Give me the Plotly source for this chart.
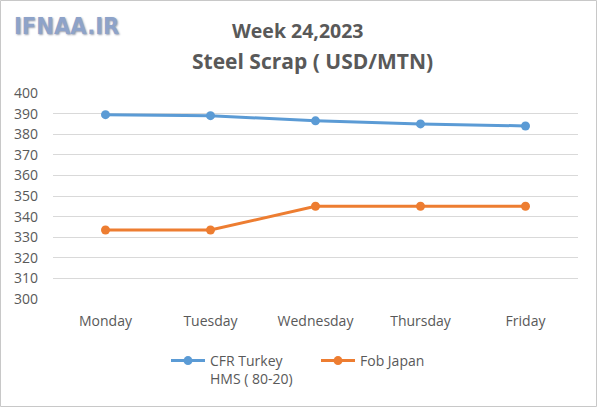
import plotly.graph_objects as go

days = ["Monday", "Tuesday", "Wednesday", "Thursday", "Friday"]
cfr_turkey = [389.5, 389, 386.5, 385, 384]
fob_japan = [333.5, 333.5, 345, 345, 345]
y_ticks = list(range(300, 401, 10))

W, H = 600, 408
L, R, T, B = 53, 22, 93, 109
pw, ph = W - L - R, H - T - B

def px(x):
    return (x - L) / pw

def py(y):
    return (H - B - y) / ph

font = "'Open Sans', sans-serif"

fig = go.Figure()
fig.add_trace(go.Scatter(
    x=days, y=cfr_turkey, mode="lines+markers", name="CFR Turkey<br>HMS ( 80-20)",
    line=dict(color="#5b9bd5", width=3), marker=dict(size=9, color="#5b9bd5")))
fig.add_trace(go.Scatter(
    x=days, y=fob_japan, mode="lines+markers", name="Fob Japan",
    line=dict(color="#ed7d31", width=3), marker=dict(size=9, color="#ed7d31")))

fig.update_layout(
    width=W, height=H,
    margin=dict(l=L, r=R, t=T, b=B, autoexpand=False),
    paper_bgcolor="white", plot_bgcolor="white",
    font=dict(family=font, color="#595959", size=14),
    showlegend=True,
    legend=dict(orientation="h", x=px(166), y=py(345), xanchor="left", yanchor="top",
                font=dict(size=14, color="#595959"), entrywidth=101, itemwidth=34,
                traceorder="normal", valign="top", tracegroupgap=0),
    xaxis=dict(showgrid=False, showline=False, zeroline=False, ticks="",
               tickfont=dict(size=14, color="#595959"), range=[-0.5, 4.5],
               ticklabelstandoff=12),
    yaxis=dict(range=[300, 400], tickvals=y_ticks, showgrid=True, gridcolor="#d9d9d9",
               gridwidth=1, zeroline=False, showline=False, ticks="",
               tickfont=dict(size=14, color="#595959"), ticklabelstandoff=14),
    annotations=[
        dict(text="<b>Week 24,2023</b>", x=px(298), y=py(31), xref="paper", yref="paper",
             xanchor="center", yanchor="middle",
             showarrow=False, font=dict(size=19.5, color="#595959")),
        dict(text="<b>Steel Scrap ( USD/MTN)</b>", x=px(312), y=py(61), xref="paper", yref="paper",
             xanchor="center", yanchor="middle",
             showarrow=False, font=dict(size=21, color="#595959")),
        dict(text="<b>IFNAA.IR</b>", x=px(12), y=py(26), xref="paper", yref="paper",
             xanchor="left", yanchor="middle", showarrow=False,
             font=dict(size=23.5, color="#8ea3c9",
                       family="'Liberation Sans Narrow', 'DejaVu Sans Condensed', sans-serif",
                       shadow="1px 1px 2px #9aa0b0")),
    ],
    shapes=[
        dict(type="rect", xref="paper", yref="paper", x0=px(0.5), x1=px(596.5),
             y0=py(H - 1.5), y1=py(0.5), line=dict(color="#c8c8c8", width=1)),
    ],
)

fig.write_html("out.html", config={"displayModeBar": False},
               post_script="document.body.style.margin='0';")
